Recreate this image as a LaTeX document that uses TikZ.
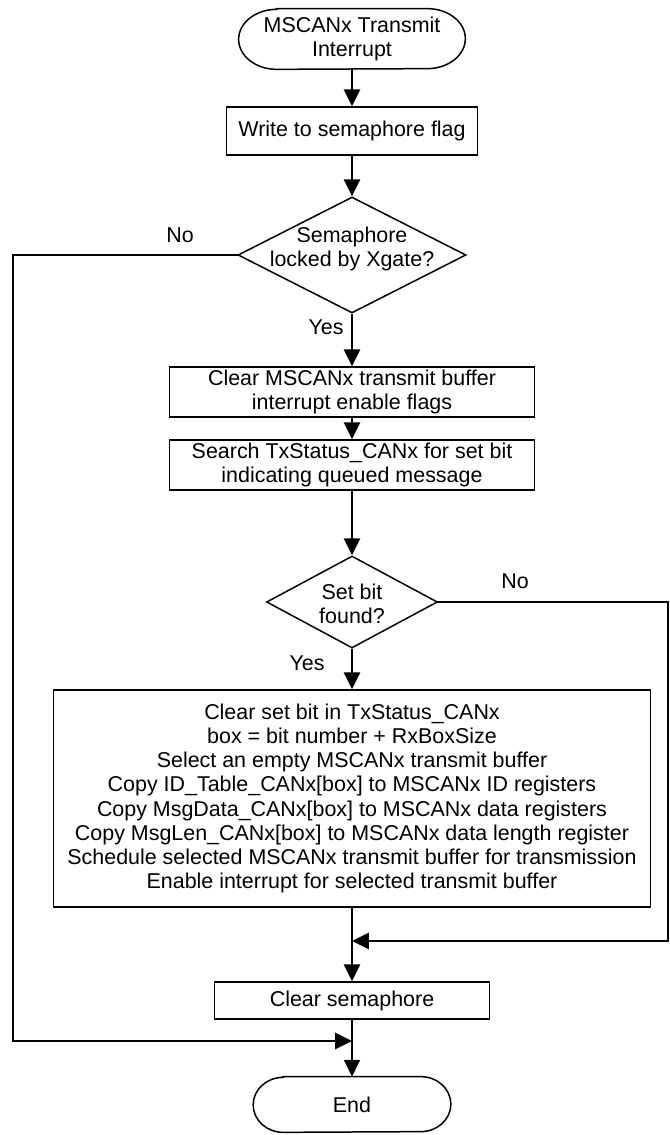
\documentclass[tikz,border=0pt]{standalone}
\usepackage{fontspec}
\setmainfont{Liberation Sans}
\usetikzlibrary{shapes.geometric,arrows.meta,calc}

\begin{document}
\begin{tikzpicture}[scale=0.2]
\tikzstyle{every node}+=[inner sep=0pt, font=\fontsize{12.2}{13.8}\selectfont]
\tikzstyle{box}=[draw, black, line width=0.85pt, align=center]
\tikzstyle{dec}=[draw, black, diamond, line width=0.85pt]
\tikzstyle{flow}=[black, line width=1.4pt, -{Triangle[length=9.6pt,width=9.1pt]}]
\tikzstyle{side}=[black, line width=1pt, line cap=rect]
\useasboundingbox (0,0) rectangle (66.9,-113.5);
\node [align=center, minimum width=4.52cm, minimum height=1.2cm] (start) at (35.2,-3.9) {MSCANx Transmit\\Interrupt};
\draw [black, line width=0.85pt] ($(start.north west)+(3.8,0)$) -- ($(start.north east)+(-3.8,0)$) arc (90:-90:3.8 and 3) -- ($(start.south west)+(3.8,0)$) arc (270:90:3.8 and 3) -- cycle;
\node [box, minimum width=5.02cm, minimum height=0.96cm] (write) at (35.2,-13.1) {Write to semaphore flag};
\node [dec, minimum width=4.56cm, minimum height=2.32cm] (lock) at (35.2,-25.5) {};
\node [align=center] (locktxt) at (35.2,-24.9) {Semaphore\\locked by Xgate?};
\node [box, minimum width=7.3cm, minimum height=1cm] (clrint) at (35.2,-39.2) {Clear MSCANx transmit buffer\\interrupt enable flags};
\node [box, minimum width=7.3cm, minimum height=1cm] (search) at (35.2,-46.5) {Search TxStatus\_CANx for set bit\\indicating queued message};
\node [dec, minimum width=3.42cm, minimum height=1.84cm] (found) at (35.2,-60.2) {};
\node [align=center] (foundtxt) at (35.2,-60.35) {Set bit\\found?};
\node [box, minimum width=11.94cm, minimum height=4.34cm] (copy) at (35.2,-79.85) {Clear set bit in TxStatus\_CANx\\box = bit number + RxBoxSize\\Select an empty MSCANx transmit buffer\\Copy ID\_Table\_CANx[box] to MSCANx ID registers\\Copy MsgData\_CANx[box] to MSCANx data registers\\Copy MsgLen\_CANx[box] to MSCANx data length register\\Schedule selected MSCANx transmit buffer for transmission\\Enable interrupt for selected transmit buffer};
\node [box, minimum width=5.5cm, minimum height=0.74cm] (clrsem) at (35.2,-100.05) {Clear semaphore};
\node [align=center, minimum width=3.94cm, minimum height=1.1cm] (stop) at (35.2,-110.45) {End};
\draw [black, line width=0.85pt] ($(stop.north west)+(3,0)$) -- ($(stop.north east)+(-3,0)$) arc (90:-90:3 and 2.75) -- ($(stop.south west)+(3,0)$) arc (270:90:3 and 2.75) -- cycle;
% branch corners
\coordinate (lockl) at (1.3,-25.5);
\coordinate (lockb) at (1.3,-104.1);
\coordinate (mergelow) at (35.2,-104.1);
\coordinate (foundr) at (66.8,-60.2);
\coordinate (foundb) at (66.8,-94.1);
\coordinate (mergehigh) at (35.2,-94.1);
% main flow
\draw [flow] (start.south) -- (write.north);
\draw [flow] (write.south) -- (lock.north);
\draw [flow] (lock.south) -- (clrint.north);
\draw [flow] (clrint.south) -- (search.north);
\draw [flow] (search.south) -- (found.north);
\draw [flow] (found.south) -- (copy.north);
\draw [flow] (copy.south) -- (clrsem.north);
\draw [flow] (clrsem.south) -- (stop.north);
% no branches
\draw [side] (lock.west) -- (lockl) -- (lockb);
\draw [flow] (lockb) -- (mergelow);
\draw [side] (found.east) -- (foundr) -- (foundb);
\draw [flow] (foundb) -- (mergehigh);
\node (no1) at (18,-23.5) {No};
\node (yes1) at (32.6,-32.7) {Yes};
\node (no2) at (51.5,-58.1) {No};
\node (yes2) at (30.7,-66.3) {Yes};
\end{tikzpicture}
\end{document}
